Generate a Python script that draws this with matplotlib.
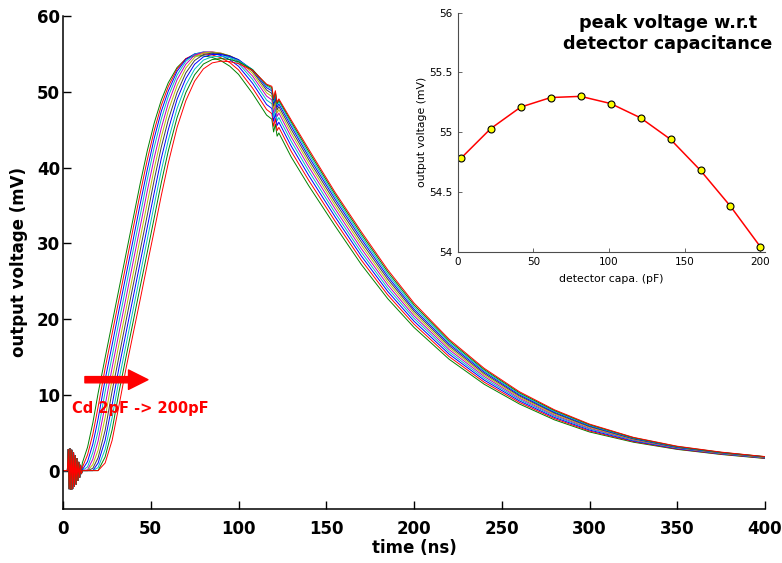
import matplotlib
matplotlib.use('Agg')
import matplotlib.pyplot as plt

# ---- main plot data ----
# switching ringing at the start, common to all traces
ring_t = [0, 2.5, 3, 3.5, 4, 4.5, 5, 5.5, 6, 6.5, 7, 7.5, 8, 8.5, 9, 9.5, 10, 10.5]
ring_v = [0, 0, 2.8, -2.4, 2.9, -2.5, 2.7, -2.4, 2.4, -2.1, 2.0, -1.8, 1.6, -1.3, 1.1, -0.9, 0.7, -0.4]

# time grid of the pulse (ns)
t_ns = [11, 14, 17, 20, 24, 28, 32, 36, 40, 44, 48, 52, 56, 60, 65, 70, 75, 80, 85, 90, 95, 100,
        108, 116, 119, 120, 121, 122, 123, 130, 140, 155, 170, 185, 200, 220, 240, 260, 280, 300,
        325, 350, 375, 400]

# output voltage (mV) of each trace, Cd = 2pF ... 200pF
v_mv = [
    [1.0, 3.1, 6.3, 10.2, 14.9, 19.5, 24.1, 28.7, 33.3, 37.9, 42.2, 45.9, 48.9, 51.2, 53.2, 54.35, 54.73, 54.75, 54.53, 54.1, 53.38, 52.3,
     49.78, 46.92, 46.38, 44.7, 45.72, 44.14, 44.56, 41.4, 37.6, 32.3, 27.2, 22.7, 18.9, 14.7, 11.4, 8.8, 6.7, 5.1, 3.75, 2.8, 2.13, 1.6],
    [0.4, 2.1, 4.8, 8.4, 13.5, 18.1, 22.7, 27.3, 32.0, 36.6, 41.0, 44.9, 48.2, 50.7, 53.0, 54.38, 54.93, 55.02, 54.86, 54.49, 53.86, 52.89,
     50.49, 47.66, 47.12, 45.44, 46.46, 44.88, 45.3, 42.15, 38.31, 32.93, 27.78, 23.2, 19.33, 15.05, 11.67, 9.01, 6.87, 5.23, 3.84, 2.85, 2.17, 1.64],
    [0.1, 1.2, 3.5, 6.8, 12.0, 16.6, 21.3, 25.9, 30.5, 35.2, 39.7, 43.9, 47.4, 50.1, 52.7, 54.27, 55.01, 55.2, 55.09, 54.78, 54.24, 53.37,
     51.13, 48.32, 47.8, 46.12, 47.14, 45.56, 45.98, 42.85, 38.96, 33.51, 28.32, 23.66, 19.72, 15.38, 11.94, 9.21, 7.03, 5.36, 3.92, 2.9, 2.22, 1.67],
    [0.0, 0.5, 2.4, 5.2, 10.4, 15.1, 19.8, 24.4, 29.1, 33.7, 38.4, 42.7, 46.4, 49.4, 52.2, 54.03, 54.97, 55.27, 55.22, 54.98, 54.5, 53.74,
     51.64, 48.9, 48.42, 46.74, 47.76, 46.18, 46.6, 43.48, 39.56, 34.04, 28.81, 24.1, 20.1, 15.68, 12.18, 9.39, 7.19, 5.49, 4.0, 2.96, 2.25, 1.7],
    [0.0, 0.1, 1.5, 3.9, 8.6, 13.6, 18.3, 22.9, 27.6, 32.2, 36.9, 41.3, 45.2, 48.5, 51.6, 53.64, 54.84, 55.24, 55.27, 55.09, 54.67, 53.99,
     52.07, 49.43, 48.93, 47.27, 48.31, 46.75, 47.19, 44.05, 40.11, 34.55, 29.29, 24.51, 20.43, 15.97, 12.42, 9.56, 7.33, 5.6, 4.07, 3.0, 2.29, 1.73],
    [0.0, 0.0, 0.8, 2.7, 7.0, 12.1, 16.8, 21.4, 26.0, 30.7, 35.3, 39.9, 44.0, 47.5, 50.8, 53.14, 54.54, 55.13, 55.24, 55.1, 54.76, 54.15,
     52.44, 49.86, 49.38, 47.72, 48.76, 47.2, 47.64, 44.57, 40.6, 35.01, 29.75, 24.91, 20.75, 16.24, 12.63, 9.72, 7.46, 5.71, 4.13, 3.04, 2.32, 1.75],
    [0.0, 0.0, 0.3, 1.7, 5.3, 10.5, 15.2, 19.9, 24.5, 29.1, 33.7, 38.4, 42.7, 46.3, 49.9, 52.5, 54.13, 54.91, 55.11, 55.03, 54.75, 54.23,
     52.72, 50.23, 49.78, 48.12, 49.16, 47.6, 48.04, 45.04, 41.04, 35.44, 30.18, 25.28, 21.05, 16.48, 12.82, 9.87, 7.59, 5.81, 4.2, 3.07, 2.35, 1.78],
    [0.0, 0.0, 0.0, 1.0, 4.0, 8.7, 13.7, 18.3, 22.9, 27.5, 32.1, 36.7, 41.2, 45.0, 49.0, 51.76, 53.63, 54.6, 54.92, 54.91, 54.67, 54.24,
     52.9, 50.54, 50.13, 48.47, 49.51, 47.95, 48.39, 45.45, 41.44, 35.83, 30.57, 25.61, 21.31, 16.71, 13.01, 10.01, 7.7, 5.9, 4.25, 3.1, 2.38, 1.81],
    [0.0, 0.0, 0.0, 0.4, 2.8, 7.0, 12.1, 16.7, 21.3, 25.9, 30.5, 35.1, 39.6, 43.6, 47.8, 50.89, 52.98, 54.18, 54.62, 54.67, 54.51, 54.12,
     52.94, 50.77, 50.36, 48.72, 49.78, 48.24, 48.7, 45.78, 41.8, 36.16, 30.91, 25.93, 21.6, 16.93, 13.18, 10.15, 7.82, 5.99, 4.3, 3.14, 2.39, 1.82],
    [0.0, 0.0, 0.0, 0.0, 1.8, 5.4, 10.5, 15.1, 19.7, 24.3, 28.8, 33.4, 38.0, 42.2, 46.6, 49.9, 52.24, 53.66, 54.25, 54.38, 54.26, 53.95,
     52.92, 50.91, 50.56, 48.92, 49.98, 48.44, 48.9, 46.05, 42.13, 36.47, 31.23, 26.24, 21.87, 17.14, 13.34, 10.28, 7.93, 6.07, 4.35, 3.18, 2.41, 1.84],
    [0.0, 0.0, 0.0, 0.0, 1.0, 4.0, 8.7, 13.6, 18.1, 22.6, 27.2, 31.7, 36.3, 40.6, 45.3, 48.83, 51.4, 53.02, 53.81, 54.04, 53.98, 53.71,
     52.83, 51.0, 50.72, 49.08, 50.14, 48.6, 49.06, 46.29, 42.42, 36.74, 31.52, 26.52, 22.12, 17.34, 13.5, 10.42, 8.03, 6.14, 4.39, 3.22, 2.44, 1.85],
]

# MATLAB-like line colours, in drawing order
line_colors = [(0, 0.5, 0), (1, 0, 0), (0, 0, 1), (0, 0.75, 0.75), (0.75, 0, 0.75),
               (0.75, 0.75, 0), (0.25, 0.25, 0.25), (0, 0, 1), (0, 0.75, 0.75), (0, 0.5, 0), (1, 0, 0)]

# ---- inset data ----
cd_pf = [2, 21.8, 41.6, 61.4, 81.2, 101, 120.8, 140.6, 160.4, 180.2, 200]
peak_mv = [54.78, 55.03, 55.21, 55.29, 55.30, 55.24, 55.12, 54.94, 54.68, 54.38, 54.04]
inset_yticks = [54, 54.5, 55, 55.5, 56]
inset_ylabels = ['54', '54.5', '55', '55.5', '56']

W, H = 782, 563
fig = plt.figure(figsize=(W / 100, H / 100), dpi=100)

# main axes
ax = fig.add_axes([63 / W, 1 - 508.5 / H, (765 - 63) / W, (508.5 - 16) / H])
for k in range(len(v_mv)):
    ax.plot(ring_t + t_ns, ring_v + v_mv[k], color=line_colors[k], lw=0.7)

ax.set_xlim(0, 400)
ax.set_ylim(-5, 60)
ax.set_xticks(range(0, 401, 50))
ax.set_yticks(range(0, 61, 10))
ax.spines['top'].set_visible(False)
ax.spines['right'].set_visible(False)
for s in ['left', 'bottom']:
    ax.spines[s].set_linewidth(1.1)
ax.tick_params(direction='in', length=6, width=1.0, labelsize=12)
ax.tick_params(axis='x', pad=8)
ax.tick_params(axis='y', pad=2)
for lab in ax.get_xticklabels() + ax.get_yticklabels():
    lab.set_fontweight('bold')
ax.set_xlabel('time (ns)', fontsize=12, fontweight='bold')
ax.set_ylabel('output voltage (mV)', fontsize=12, fontweight='bold')
ax.xaxis.set_label_coords(0.5, -0.062)
ax.yaxis.set_label_coords(-0.05, 0.5)

ax.annotate('', xy=(48.4, 12), xytext=(12.5, 12),
            arrowprops=dict(arrowstyle='simple,head_length=1.0,head_width=1.0,tail_width=0.32',
                            color='red', mutation_scale=14, shrinkA=0, shrinkB=0))
ax.text(5, 8.2, 'Cd 2pF -> 200pF', color='red', fontsize=10.5, fontweight='bold', va='center')

# inset axes
ins = fig.add_axes([457.7 / W, 1 - 251.7 / H, (765 - 457.7) / W, (251.7 - 12.7) / H])
ins.plot(cd_pf, peak_mv, color='red', lw=1.1, marker='o', markersize=5,
         markerfacecolor='yellow', markeredgecolor='black', markeredgewidth=0.8)
ins.set_xlim(0, 203)
ins.set_ylim(54, 56)
ins.set_xticks(range(0, 201, 50))
ins.set_yticks(inset_yticks)
ins.set_yticklabels(inset_ylabels)
ins.spines['top'].set_visible(False)
ins.spines['right'].set_visible(False)
for s in ['left', 'bottom']:
    ins.spines[s].set_linewidth(0.8)
    ins.spines[s].set_color('0.3')
ins.tick_params(direction='in', length=3, width=0.6, labelsize=7.5, pad=4, color='0.3')
ins.set_xlabel('detector capa. (pF)', fontsize=7.8)
ins.set_ylabel('output voltage (mV)', fontsize=7.8)
ins.xaxis.set_label_coords(0.5, -0.093)
ins.yaxis.set_label_coords(-0.1, 0.5)
ins.text(0.684, 0.913, 'peak voltage w.r.t\ndetector capacitance', transform=ins.transAxes,
         ha='center', va='center', fontsize=12.7, fontweight='bold', linespacing=1.15)

fig.savefig('out.png', dpi=100)
